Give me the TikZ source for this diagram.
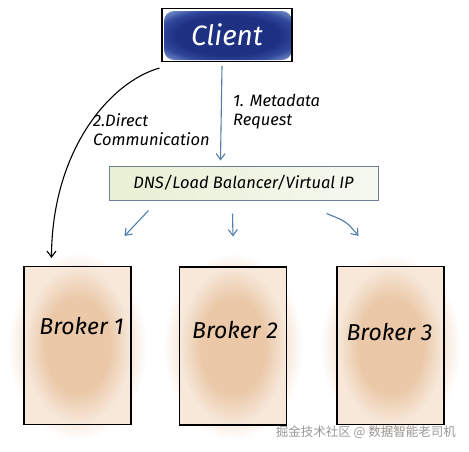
\documentclass[tikz,border=0pt]{standalone}
\usepackage{fontspec}
\setmainfont{Fira Sans}
\newfontfamily\cjkfont{Noto Sans CJK SC}
\usetikzlibrary{arrows.meta,calc}
\definecolor{arrowblue}{RGB}{80,125,170}
\definecolor{clientdark}{RGB}{30,48,130}
\definecolor{clientmid}{RGB}{48,72,155}
\definecolor{clientlight}{RGB}{120,145,200}
\definecolor{brokertan}{RGB}{234,200,168}
\definecolor{brokerpale}{RGB}{247,232,218}
\definecolor{lbfillL}{RGB}{232,240,212}
\definecolor{lbfillR}{RGB}{246,248,240}
\definecolor{lbborder}{RGB}{110,128,150}
\pgfdeclareradialshading{brokerhalo}{\pgfpoint{0bp}{0bp}}{color(0bp)=(brokerpale); color(19bp)=(brokerpale); color(25bp)=(white); color(50bp)=(white)}
\pgfdeclareradialshading{brokerin}{\pgfpoint{0bp}{0bp}}{color(0bp)=(brokertan); color(15bp)=(brokertan); color(25bp)=(brokerpale); color(50bp)=(brokerpale)}
\pgfdeclareradialshading{clientglow}{\pgfpoint{0bp}{0bp}}{color(0bp)=(clientdark); color(20bp)=(clientdark); color(27bp)=(clientmid); color(34bp)=(clientlight); color(50bp)=(clientlight)}
\tikzset{
  brokerbox/.style={draw=black, line width=1.1pt, minimum width=107pt, minimum height=158pt, inner sep=0pt},
  brokertext/.style={font=\itshape\fontsize{23}{26}\selectfont, inner sep=0pt},
  flow/.style={draw=arrowblue, line width=1.1pt, -{Straight Barb[length=6pt,width=9pt]}},
  direct/.style={draw=black, line width=1.1pt, -{Straight Barb[length=6pt,width=9pt]}},
  lbl/.style={font=\itshape\fontsize{16.5}{19}\selectfont, align=left, anchor=west, inner sep=0pt}
}
\begin{document}
\begin{tikzpicture}[x=1pt,y=-1pt]
\useasboundingbox (0,0) rectangle (469,451);
\fill[white] (0,0) rectangle (469,451);
% glows for brokers
\shade[shading=brokerhalo] (8,252) rectangle (147,440);
\shade[shading=brokerhalo] (163,253) rectangle (303,440);
\shade[shading=brokerhalo] (320,254) rectangle (461,438);
\shade[shading=brokerin] (24,267) rectangle (131,424);
\shade[shading=brokerin] (179.5,267) rectangle (286.5,425);
\shade[shading=brokerin] (337,267) rectangle (444,424);
% client blob
\shade[shading=clientglow, rounded corners=10pt] (164,11) rectangle (292,60);
\node[draw=black, line width=1.1pt, minimum width=130pt, minimum height=53pt, inner sep=0pt,
      font=\itshape\fontsize{28}{32}\selectfont, text=white] (client) at (227,35) {Client};
% load balancer
\shade[left color=lbfillL, right color=lbfillR] (109,166) rectangle (378,200);
\node[draw=lbborder, line width=1pt, minimum width=269pt, minimum height=34pt, inner sep=0pt,
      font=\itshape\fontsize{16.5}{19}\selectfont] (lb) at (243.5,183) {DNS/Load Balancer/Virtual IP};
% brokers
\node[brokerbox] (b1) at (77.5,345.5) {};
\node[brokerbox] (b2) at (233,346) {};
\node[brokerbox] (b3) at (390.5,345.5) {};
\node[brokertext] (t1) at ($(b1)+(4,-19)$) {Broker 1};
\node[brokertext] (t2) at ($(b2)+(2,-16)$) {Broker 2};
\node[brokertext] (t3) at ($(b3)+(-1,-13)$) {Broker 3};
% arrows
\coordinate (m1s) at ($(client.south)+(-5,4)$);
\coordinate (m1e) at ($(lb.north)+(-23,-5)$);
\draw[flow] (m1s) -- (m1e);
\node[lbl] (lab1) at (233,112) {1. Metadata\\Request};
\coordinate (d2s) at ($(client.south west)+(-2,6)$);
\coordinate (d2e) at ($(b1.north west)+(28,-8)$);
\draw[direct] (d2s) .. controls (110,82) and (52,150) .. (d2e);
\node[lbl] (lab2) at (93,130) {2.Direct\\Communication};
% small arrows to brokers
\coordinate (s1) at ($(lb.south)+(-95,10)$);
\coordinate (e1) at ($(b1.north)+(47,-30)$);
\draw[flow] (s1) -- (e1);
\coordinate (s2) at ($(lb.south)+(-11,13)$);
\coordinate (e2) at ($(b2.north)+(0,-30)$);
\draw[flow] (s2) -- (e2);
\coordinate (s3) at ($(lb.south)+(83,13)$);
\coordinate (e3) at ($(b3.north)+(-32,-30)$);
\draw[flow] (s3) .. controls ($(s3)+(20,8)$) .. (e3);
% watermark
\node[font=\cjkfont\fontsize{12.5}{14}\selectfont, text=gray!80, anchor=east, inner sep=0pt] (wm) at (456,432) {掘金技术社区 @ 数据智能老司机};
\end{tikzpicture}
\end{document}
